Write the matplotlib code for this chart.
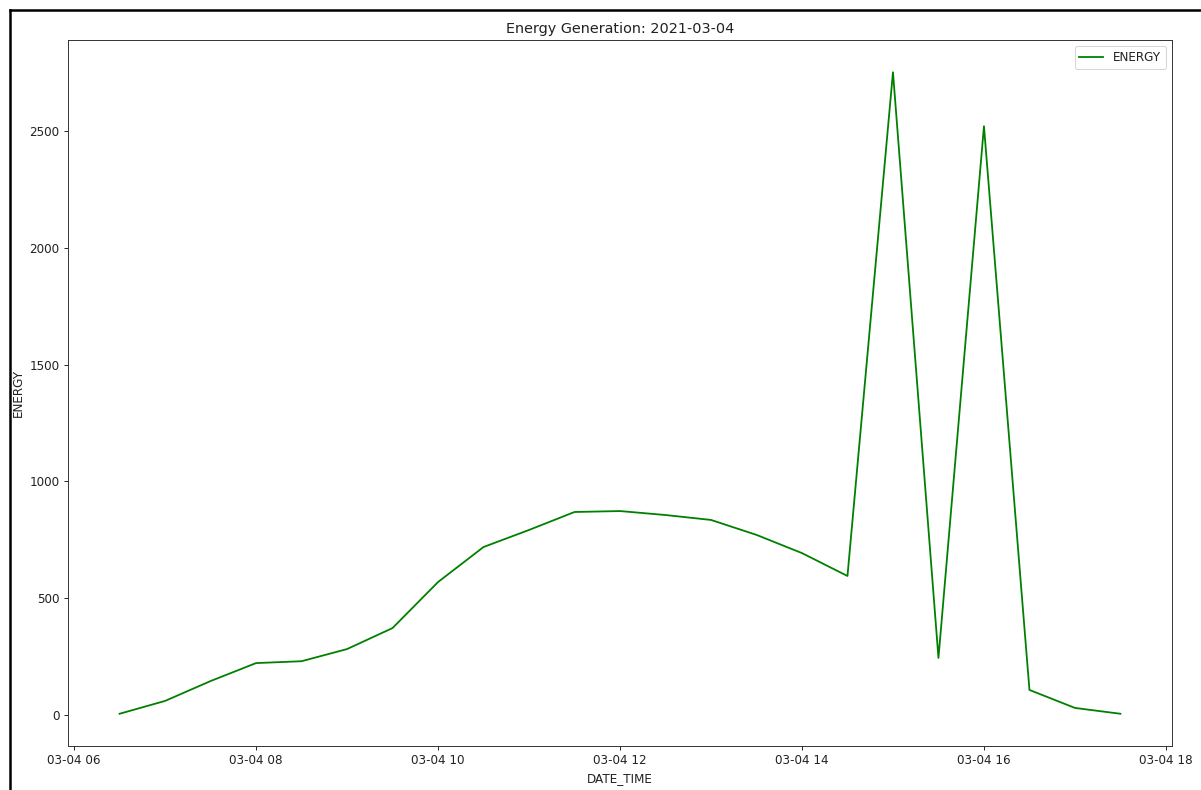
import numpy as np
import pandas as pd
import matplotlib.pyplot as plt
import matplotlib.dates as mdates
from matplotlib.lines import Line2D

# half-hourly generation readings for the day
times = pd.date_range('2021-03-04 06:30', '2021-03-04 17:30', freq='30min')
energy = [5, 60, 145, 222, 230, 282, 372, 569, 719, 792, 869, 873,
          856, 835, 771, 693, 595, 2752, 244, 2521, 107, 30, 5]

df = pd.DataFrame({'DATE_TIME': times, 'ENERGY': energy})

scale = 1.2
plt.rcParams.update({
    'font.size': 10 * scale,
    'axes.linewidth': 0.8 * scale,
    'xtick.major.size': 3.5 * scale,
    'ytick.major.size': 3.5 * scale,
    'xtick.major.width': 0.8 * scale,
    'ytick.major.width': 0.8 * scale,
    'xtick.major.pad': 3.5 * scale,
    'ytick.major.pad': 3.5 * scale,
    'axes.edgecolor': '#333333',
    'text.color': '#222222',
    'xtick.color': '#222222',
    'ytick.color': '#222222',
    'axes.labelcolor': '#222222',
})

fig = plt.figure(figsize=(1201 / 72, 790 / 72), dpi=72)
ax = fig.add_axes([68 / 1201, 1 - 746 / 790, (1172 - 68) / 1201, (746 - 40) / 790])

ax.plot(df['DATE_TIME'], df['ENERGY'], color='green', linewidth=1.5 * scale, label='ENERGY')
ax.set_title('Energy Generation: 2021-03-04', pad=6 * scale)
ax.set_xlabel('DATE_TIME', labelpad=4 * scale)
ax.set_ylabel('ENERGY', labelpad=4 * scale)
ax.legend(loc='upper right')

ax.xaxis.set_major_locator(mdates.HourLocator(byhour=range(0, 24, 2)))
ax.xaxis.set_major_formatter(mdates.DateFormatter('%m-%d %H'))
ax.set_xlim(pd.Timestamp('2021-03-04 05:56'), pd.Timestamp('2021-03-04 18:04'))
ax.set_ylim(-133, 2890)

# frame lines around the figure area
fig.add_artist(Line2D([9.5 / 1201, 9.5 / 1201], [0, 1 - 10 / 790], color='black', linewidth=2.5))
fig.add_artist(Line2D([9.5 / 1201, 1], [1 - 10 / 790, 1 - 10 / 790], color='black', linewidth=2.5))

fig.savefig('out.png', dpi=72)
